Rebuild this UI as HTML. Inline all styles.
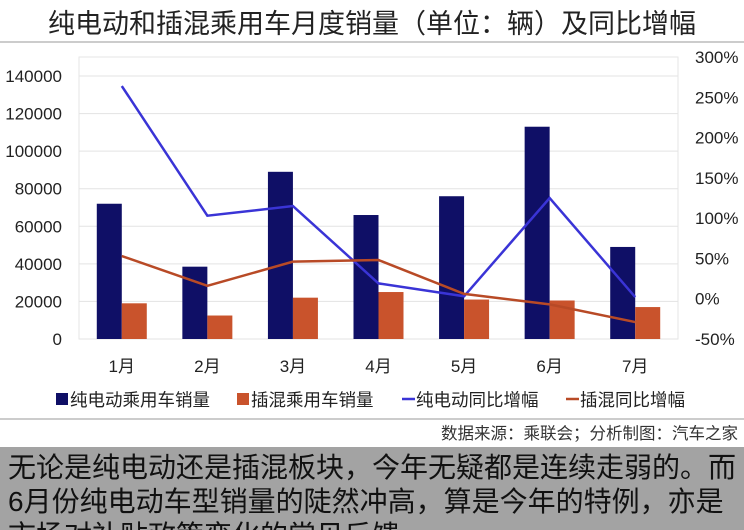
<!DOCTYPE html>
<html><head><meta charset="utf-8"><style>
body{margin:0;width:744px;height:530px;overflow:hidden;background:#fff;font-family:"Liberation Sans","Noto Sans CJK SC",sans-serif;}
#title{position:absolute;left:0;top:2px;width:744px;text-align:center;font-size:27px;color:#222;}
#bottom{position:absolute;left:0;top:447px;width:744px;height:83px;background:#a3a3a3;overflow:hidden;}
#bottom div{position:absolute;left:8px;font-size:28px;color:#111;white-space:nowrap;line-height:34px;}
</style></head><body>
<div id="title">纯电动和插混乘用车月度销量（单位：辆）及同比增幅</div>
<svg id="chart" width="744" height="447" style="position:absolute;left:0;top:0"></svg>
<div id="bottom">
<div style="top:4px">无论是纯电动还是插混板块，今年无疑都是连续走弱的。而</div>
<div style="top:38px">6月份纯电动车型销量的陡然冲高，算是今年的特例，亦是</div>
<div style="top:72px">市场对补贴政策变化的常见反馈。</div>
</div>
<script>
const categories=["1月","2月","3月","4月","5月","6月","7月"];
const evSales=[72000,38500,89000,66000,76000,113000,49000];
const phevSales=[19000,12500,22000,25000,21000,20500,17000];
const evYoY=[264,103,115,19,3,125,2];
const phevYoY=[53,16,46,48,6,-7,-29];
const leftTicks=[0,20000,40000,60000,80000,100000,120000,140000];
const rightTicks=[-50,0,50,100,150,200,250,300];
const svg=document.getElementById('chart');
const NS='http://www.w3.org/2000/svg';
const X0=79,X1=678,Y0=339;
const yL=v=>Y0-v/140000*263;
const yR=v=>Y0-(v+50)/350*282;
const band=(X1-X0)/categories.length;
const xc=i=>X0+band*(i+0.5);
function mk(t,a,txt){const e=document.createElementNS(NS,t);for(const k in a)e.setAttribute(k,a[k]);if(txt!==undefined)e.textContent=txt;svg.appendChild(e);return e;}
let e;
e=mk('line',{x1:0,y1:42,x2:744,y2:42,stroke:'#bbb','stroke-width':1.5});


e=mk('rect',{x:X0,y:57,width:X1-X0,height:Y0-57,fill:'none',stroke:'#e6e6e6'});


leftTicks.forEach(v=>{
 e=mk('line',{x1:X0,x2:X1,y1:yL(v),y2:yL(v),stroke:'#e3e3e3'});
 
 
 e=mk('text',{x:62,y:yL(v)+6,'text-anchor':'end','font-size':17,fill:'#222'},String(v));
 
 
});
rightTicks.forEach(v=>{
 e=mk('text',{x:695,y:yR(v)+6,'font-size':17,fill:'#222'},v+'%');
 
 
});
categories.forEach((c,i)=>{
 e=mk('rect',{x:xc(i)-25,y:yL(evSales[i]),width:25,height:Y0-yL(evSales[i]),fill:'#0f0f66'});
 
 
 e=mk('rect',{x:xc(i),y:yL(phevSales[i]),width:25,height:Y0-yL(phevSales[i]),fill:'#c9532c'});
 
 
 e=mk('text',{x:xc(i),y:372,'text-anchor':'middle','font-size':17,fill:'#222'},c);
 
 
});
e=mk('polyline',{points:evYoY.map((v,i)=>xc(i)+','+yR(v)).join(' '),fill:'none',stroke:'#3a34d6','stroke-width':2.5});


e=mk('polyline',{points:phevYoY.map((v,i)=>xc(i)+','+yR(v)).join(' '),fill:'none',stroke:'#b84a26','stroke-width':2.5});


const leg=[["纯电动乘用车销量",'#0f0f66','bar',56],["插混乘用车销量",'#c9532c','bar',237],["纯电动同比增幅",'#3a34d6','line',402],["插混同比增幅",'#b84a26','line',566]];
leg.forEach(l=>{
 if(l[2]==='bar'){e=mk('rect',{x:l[3],y:393,width:12,height:12,fill:l[1]});}
 else{e=mk('line',{x1:l[3],x2:l[3]+13,y1:399,y2:399,stroke:l[1],'stroke-width':2.5});}
 
 
 e=mk('text',{x:l[3]+14,y:406,'font-size':17.5,fill:'#222'},l[0]);
 
 
});
e=mk('line',{x1:0,y1:419,x2:744,y2:419,stroke:'#bbb','stroke-width':1.5});


e=mk('text',{x:738,y:439,'text-anchor':'end','font-size':16.5,fill:'#333'},"数据来源：乘联会；分析制图：汽车之家");


</script>
</body></html>
